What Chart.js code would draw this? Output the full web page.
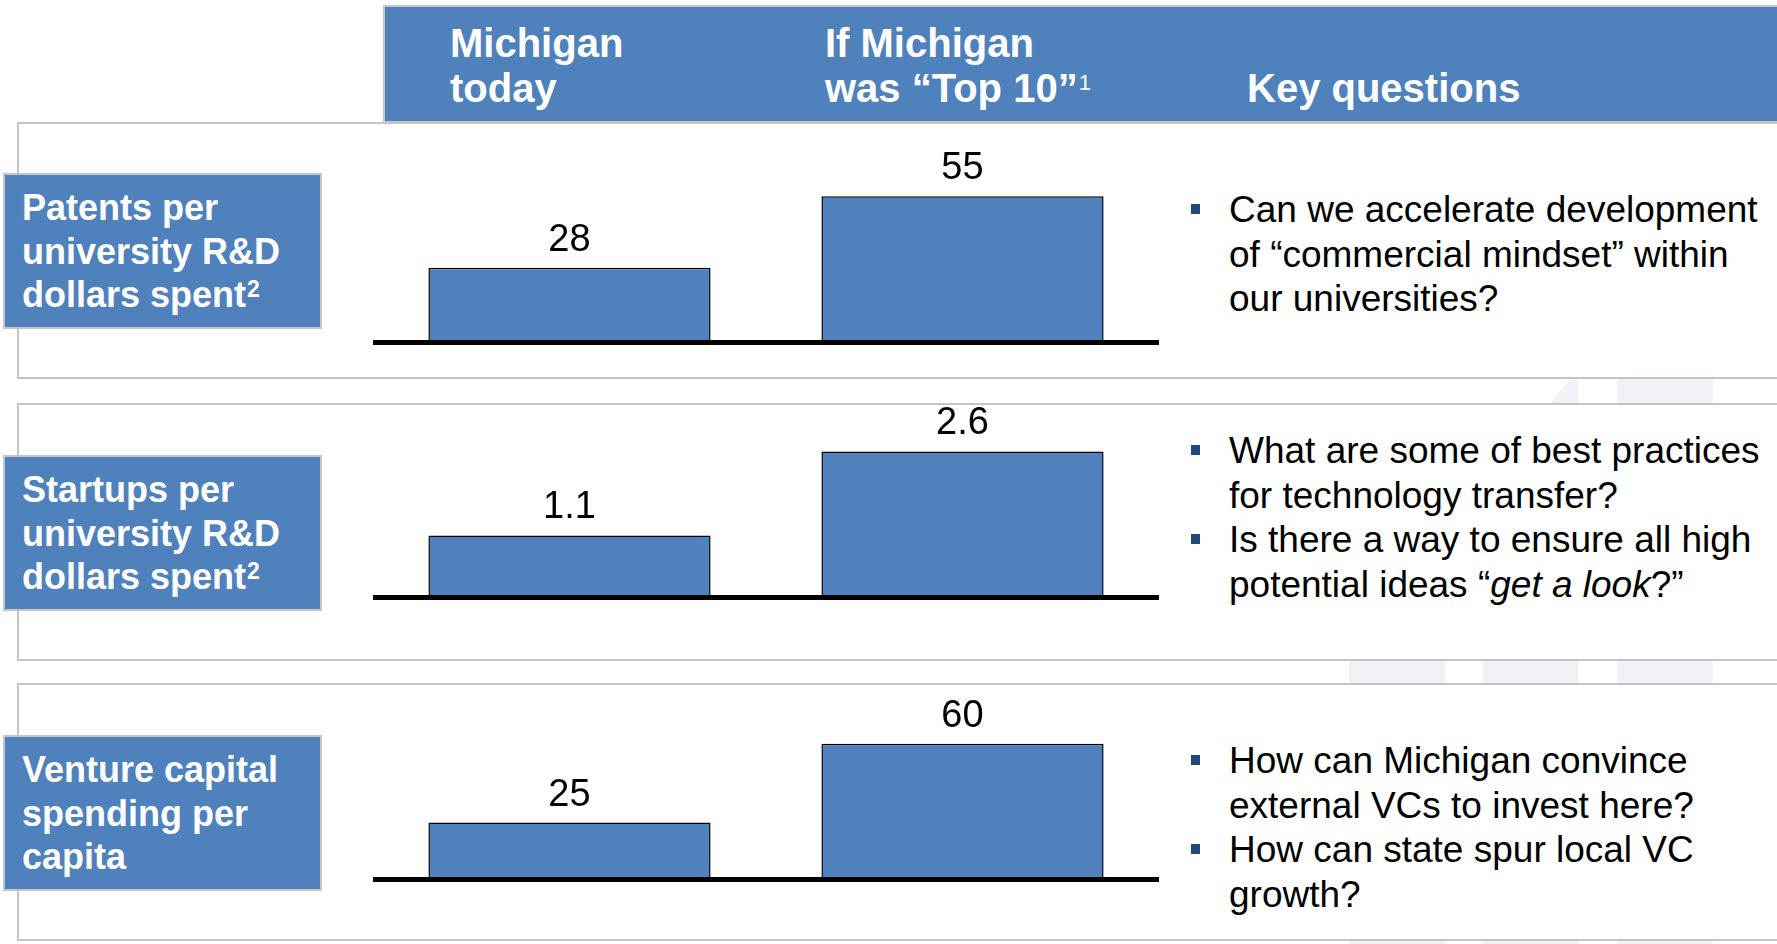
<!DOCTYPE html>
<html>
<head>
<meta charset="utf-8">
<script src="https://cdn.jsdelivr.net/npm/chart.js@4.4.1/dist/chart.umd.min.js"></script>
<style>
  html, body { margin:0; padding:0; }
  body { width:1777px; height:944px; position:relative; overflow:hidden; background:#fff;
         font-family:"Liberation Sans", Arial, Helvetica, sans-serif; }
  .wm { position:absolute; background:#F1F2F8; }
  .header { position:absolute; left:383px; top:5px; width:1420px; height:118px; box-sizing:border-box;
            background:#4F81BD; border:2px solid #C4C4C4; border-right:none; }
  .htxt { position:absolute; color:#fff; font-weight:bold; font-size:40px; line-height:45px; white-space:nowrap; }
  .hsup { font-weight:normal; font-size:22px; position:relative; top:-12px; margin-left:1px; }
  .panel { position:absolute; left:17px; width:1800px; box-sizing:border-box; background:#fff;
           border:2px solid #C4C4C4; }
  .lbl { position:absolute; left:3px; width:319px; height:156px; box-sizing:border-box; background:#4F81BD;
         border:2px solid #C4C4C4; color:#fff; font-weight:bold; font-size:36px; line-height:43.7px;
         padding:11px 0 0 17px; white-space:nowrap; }
  .lsup { font-size:23px; position:relative; top:-10px; margin-left:1px; }
  .chartbox { position:absolute; left:373px; width:786px; }
  .q { position:absolute; left:1229px; font-size:37px; line-height:44.5px; color:#000; white-space:nowrap; }
  .item { position:relative; }
  .b { position:absolute; left:-38px; top:16px; width:9px; height:10px; background:#1F497D; }
</style>
</head>
<body>
  <!-- faint watermark shapes -->
  <div class="wm" style="left:1617px; top:370px; width:96px; height:574px;"></div>
  <div class="wm" style="left:1349px; top:600px; width:96px; height:344px;"></div>
  <div class="wm" style="left:1483px; top:370px; width:95px; height:574px; clip-path:polygon(100% 0, 100% 100%, 0 100%, 0 20%);"></div>

  <div class="header"></div>
  <div class="htxt" style="left:450px; top:21px;">Michigan<br>today</div>
  <div class="htxt" style="left:825px; top:21px;">If Michigan<br>was “Top 10”<span class="hsup">1</span></div>
  <div class="htxt" style="left:1247px; top:66px;">Key questions</div>

  <div class="panel" style="top:122px; height:257px;"></div>
  <div class="panel" style="top:403px; height:258px;"></div>
  <div class="panel" style="top:683px; height:258px;"></div>

  <div class="lbl" style="top:173px;">Patents per<br>university R&amp;D<br>dollars spent<span class="lsup">2</span></div>
  <div class="lbl" style="top:455px;">Startups per<br>university R&amp;D<br>dollars spent<span class="lsup">2</span></div>
  <div class="lbl" style="top:735px;">Venture capital<br>spending per<br>capita</div>

  <div class="chartbox" style="top:130px; height:216px;"><canvas id="c1" width="786" height="216"></canvas></div>
  <div class="chartbox" style="top:401px; height:200px;"><canvas id="c2" width="786" height="200"></canvas></div>
  <div class="chartbox" style="top:676px; height:207px;"><canvas id="c3" width="786" height="207"></canvas></div>

  <div class="q" style="top:188px;">
    <div class="item"><span class="b"></span>Can we accelerate development<br>of “commercial mindset” within<br>our universities?</div>
  </div>
  <div class="q" style="top:429px;">
    <div class="item"><span class="b"></span>What are some of best practices<br>for technology transfer?</div>
    <div class="item"><span class="b"></span>Is there a way to ensure all high<br>potential ideas “<i>get a look</i>?”</div>
  </div>
  <div class="q" style="top:739px;">
    <div class="item"><span class="b"></span>How can Michigan convince<br>external VCs to invest here?</div>
    <div class="item"><span class="b"></span>How can state spur local VC<br>growth?</div>
  </div>

<script>
const categories = ['Michigan today', 'If Michigan was “Top 10”'];
const patentsValues = [28, 55];
const startupsValues = [1.1, 2.6];
const ventureValues = [25, 60];
const yMaxima = [80, 3.5, 90];

const barColor = '#4F81BD';

const valueLabelPlugin = {
  id: 'valueLabels',
  afterDatasetsDraw(chart) {
    const ctx = chart.ctx;
    const meta = chart.getDatasetMeta(0);
    const data = chart.data.datasets[0].data;
    ctx.save();
    ctx.font = '38px "Liberation Sans", Arial, sans-serif';
    ctx.fillStyle = '#000';
    ctx.textAlign = 'center';
    ctx.textBaseline = 'alphabetic';
    meta.data.forEach((bar, i) => {
      ctx.fillText(String(data[i]), bar.x, bar.y - 17);
    });
    ctx.restore();
  }
};

function makeChart(id, values, yMax) {
  return new Chart(document.getElementById(id), {
    type: 'bar',
    data: {
      labels: categories,
      datasets: [{
        data: values,
        backgroundColor: barColor,
        borderColor: '#000',
        borderWidth: 1.5,
        categoryPercentage: 1.0,
        barPercentage: 0.718
      }]
    },
    options: {
      responsive: false,
      devicePixelRatio: 1,
      animation: false,
      layout: { padding: { top: 0, bottom: 4, left: 0, right: 0 } },
      plugins: { legend: { display: false }, tooltip: { enabled: false }, title: { display: false } },
      scales: {
        x: {
          display: true,
          grid: { display: false, drawTicks: false },
          ticks: { display: false },
          border: { display: true, color: '#000', width: 5, z: 1 }
        },
        y: {
          display: false,
          min: 0,
          max: yMax
        }
      }
    },
    plugins: [valueLabelPlugin]
  });
}

makeChart('c1', patentsValues, yMaxima[0]);
makeChart('c2', startupsValues, yMaxima[1]);
makeChart('c3', ventureValues, yMaxima[2]);
</script>
</body>
</html>
